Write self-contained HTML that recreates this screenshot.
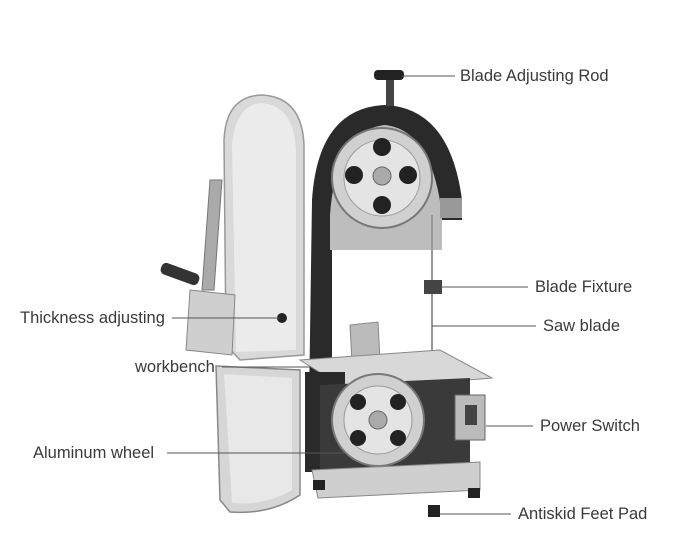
<!DOCTYPE html>
<html><head><meta charset="utf-8"><style>
body{margin:0;background:#fff;}
svg{display:block}
text{font-family:"Liberation Sans",sans-serif;font-size:16.5px;fill:#3a3a3a;}
</style></head><body>
<svg width="690" height="558" viewBox="0 0 690 558">
<path d="M224 140 Q226 96 262 95 Q302 97 304 145 L304 355 L240 360 L226 345 Z" fill="#d9d9d9" stroke="#999" stroke-width="1.5"/>
<path d="M232 145 Q236 104 262 103 Q294 106 296 150 L296 350 L236 352 Z" fill="#ebebeb"/>
<path d="M210 180 L222 180 L214 290 L202 290 Z" fill="#aaa" stroke="#777"/>
<rect x="160" y="268" width="40" height="12" rx="5" fill="#333" transform="rotate(20 180 274)"/>
<path d="M190 290 L235 295 L232 355 L186 350 Z" fill="#cfcfcf" stroke="#888"/>
<path d="M216 366 L300 370 L300 495 Q270 515 230 512 L220 500 Z" fill="#d6d6d6" stroke="#888" stroke-width="1.5"/>
<path d="M224 374 L292 378 L292 490 Q265 506 232 503 Z" fill="#e8e8e8"/>
<path d="M308 470 L312 200 Q318 108 385 105 Q450 108 462 200 L462 220 L440 220 Q430 130 385 128 Q338 130 332 210 L332 470 Z" fill="#2a2a2a"/>
<path d="M330 215 Q336 130 385 125 Q432 130 442 215 L442 250 L330 250 Z" fill="#bdbdbd"/>
<circle cx="382" cy="178" r="50" fill="#d0d0d0" stroke="#777" stroke-width="2"/>
<circle cx="382" cy="178" r="38" fill="#e4e4e4" stroke="#999"/>
<circle cx="382" cy="147" r="9" fill="#222"/><circle cx="354" cy="175" r="9" fill="#222"/>
<circle cx="408" cy="175" r="9" fill="#222"/><circle cx="382" cy="205" r="9" fill="#222"/>
<circle cx="382" cy="176" r="9" fill="#aaa" stroke="#666"/>
<rect x="386" y="78" width="8" height="28" fill="#444"/>
<rect x="374" y="70" width="30" height="10" rx="4" fill="#222"/>
<line x1="432" y1="215" x2="432" y2="360" stroke="#999" stroke-width="2"/>
<rect x="440" y="198" width="22" height="20" fill="#999"/>
<rect x="424" y="280" width="18" height="14" fill="#444"/>
<path d="M350 325 L378 322 L380 360 L352 362 Z" fill="#bbb" stroke="#888"/>
<path d="M300 360 L440 350 L492 378 L348 390 Z" fill="#d8d8d8" stroke="#888"/>
<rect x="305" y="372" width="40" height="100" fill="#2a2a2a"/>
<path d="M320 385 L470 378 L470 470 L320 475 Z" fill="#3a3a3a"/>
<circle cx="378" cy="420" r="46" fill="#d0d0d0" stroke="#777" stroke-width="2"/>
<circle cx="378" cy="420" r="34" fill="#e4e4e4" stroke="#999"/>
<circle cx="358" cy="402" r="8" fill="#222"/><circle cx="398" cy="402" r="8" fill="#222"/>
<circle cx="358" cy="438" r="8" fill="#222"/><circle cx="398" cy="438" r="8" fill="#222"/>
<circle cx="378" cy="420" r="9" fill="#aaa" stroke="#666"/>
<rect x="455" y="395" width="30" height="45" fill="#bbb" stroke="#666"/>
<rect x="465" y="405" width="12" height="20" fill="#444"/>
<path d="M312 470 L480 462 L480 490 L318 498 Z" fill="#cfcfcf" stroke="#888"/>
<rect x="313" y="480" width="12" height="10" fill="#222"/>
<rect x="428" y="505" width="12" height="12" fill="#222"/>
<rect x="468" y="488" width="12" height="10" fill="#222"/>
<circle cx="282" cy="318" r="5" fill="#222"/>
<g stroke="#555" stroke-width="1">
<line x1="402" y1="76" x2="455" y2="76"/>
<line x1="440" y1="287" x2="528" y2="287"/>
<line x1="432" y1="326" x2="536" y2="326"/>
<line x1="486" y1="426" x2="533" y2="426"/>
<line x1="440" y1="514" x2="511" y2="514"/>
<line x1="172" y1="318" x2="280" y2="318"/>
<line x1="222" y1="367" x2="310" y2="367"/>
<line x1="167" y1="453" x2="345" y2="453"/>
</g>
<text x="460" y="81">Blade Adjusting Rod</text>
<text x="535" y="292">Blade Fixture</text>
<text x="543" y="331">Saw blade</text>
<text x="540" y="431">Power Switch</text>
<text x="518" y="519">Antiskid Feet Pad</text>
<text x="20" y="323">Thickness adjusting</text>
<text x="135" y="372">workbench</text>
<text x="33" y="458">Aluminum wheel</text>
</svg>
</body></html>
